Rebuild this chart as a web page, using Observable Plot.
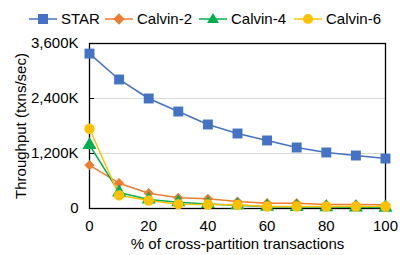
<!DOCTYPE html>
<html><head><meta charset="utf-8">
<script src="https://cdn.jsdelivr.net/npm/d3@7"></script>
<script src="https://cdn.jsdelivr.net/npm/@observablehq/plot@0.6"></script>
<style>
body{margin:0;background:#fff;font-family:"Liberation Sans",Arial,sans-serif;}
#legend{height:33px;position:relative;font-size:15px;color:#000;}
.item{position:absolute;top:10px;display:flex;align-items:center;white-space:nowrap;}
.item svg{margin-right:3px;}
</style></head>
<body>
<div id="legend"></div>
<div id="chart"></div>
<script>
const xValues = [0,10,20,30,40,50,60,70,80,90,100];
const seriesNames = ["STAR","Calvin-2","Calvin-4","Calvin-6"];
const star    = [3380,2815,2400,2116,1833,1636,1484,1331,1222,1156,1090];
const calvin2 = [945,552,334,233,211,153,116,116,87,87,80];
const calvin4 = [1385,350,196,137,100,70,40,35,30,25,20];
const calvin6 = [1740,290,175,94,87,80,44,44,44,44,44];
const yTicks = [0,1200,2400,3600];
const xTicks = [0,20,40,60,80,100];
const colors = ["#4472C4","#ED7D31","#00B050","#FFC000"];
const symbols = ["square","diamond2","triangle","circle"];
const radii = [5.6,4.6,5.2,5.2];

const all = [star,calvin2,calvin4,calvin6];
const data = [];
all.forEach((arr,i)=>arr.forEach((v,j)=>data.push({series:seriesNames[i], x:xValues[j], y:v})));

// legend
const leg = document.getElementById("legend");
const legX = [29,105,199,294];
const glyph = {
  square:'<rect x="9" y="1" width="10" height="10" fill="C"/>',
  diamond2:'<rect x="10" y="2" width="8" height="8" fill="C" transform="rotate(45 14 6)"/>',
  triangle:'<path d="M14,0 L20,10 L8,10 Z" fill="C"/>',
  circle:'<circle cx="14" cy="6" r="5" fill="C"/>'
};
seriesNames.forEach((n,i)=>{
  const d=document.createElement("div");d.className="item";d.style.left=legX[i]+"px";
  d.innerHTML=`<svg width="29" height="12"><line x1="0" x2="28" y1="6" y2="6" stroke="${colors[i]}" stroke-width="1.5"/>${glyph[symbols[i]].replace("C",colors[i])}</svg><span>${n}</span>`;
  leg.appendChild(d);
});

const fmt = d => d===0 ? "0" : d3.format(",")(d)+"K";
const chart = Plot.plot({
  width:407, height:222,
  marginTop:10, marginBottom:47, marginLeft:89, marginRight:22,
  style:{fontFamily:'"Liberation Sans",Arial,sans-serif', fontSize:"15px", color:"#000", background:"#fff"},
  x:{domain:[0,100], ticks:xTicks},
  y:{domain:[0,3600], ticks:yTicks},
  color:{domain:seriesNames, range:colors},
  symbol:{domain:seriesNames, range:symbols},
  marks:[
    Plot.ruleY([1200,2400],{stroke:"#d9d9d9", strokeWidth:1}),
    Plot.frame({stroke:"#000", strokeWidth:1.3}),
    Plot.axisY({ticks:yTicks, tickFormat:fmt, tickSize:0, tickPadding:11, fontSize:15,
      label:"Throughput (txns/sec)", labelAnchor:"center", labelArrow:"none", labelOffset:74}),
    Plot.axisY({ticks:yTicks, tickFormat:null, text:null, tickSize:5, dx:5, label:null, stroke:"#000"}),
    Plot.axisX({ticks:xTicks, tickSize:0, tickPadding:12, fontSize:15,
      label:"% of cross-partition transactions", labelAnchor:"center", labelArrow:"none", labelOffset:40}),
    ...seriesNames.map((n,i)=>Plot.line(data.filter(d=>d.series===n),{x:"x",y:"y",stroke:colors[i],strokeWidth:1.5})),
    ...seriesNames.map((n,i)=>Plot.dot(data.filter(d=>d.series===n),{x:"x",y:"y",fill:colors[i],symbol:()=>symbols[i],r:radii[i],stroke:"none"}))
  ]
});
document.getElementById("chart").appendChild(chart);
</script>
</body></html>
